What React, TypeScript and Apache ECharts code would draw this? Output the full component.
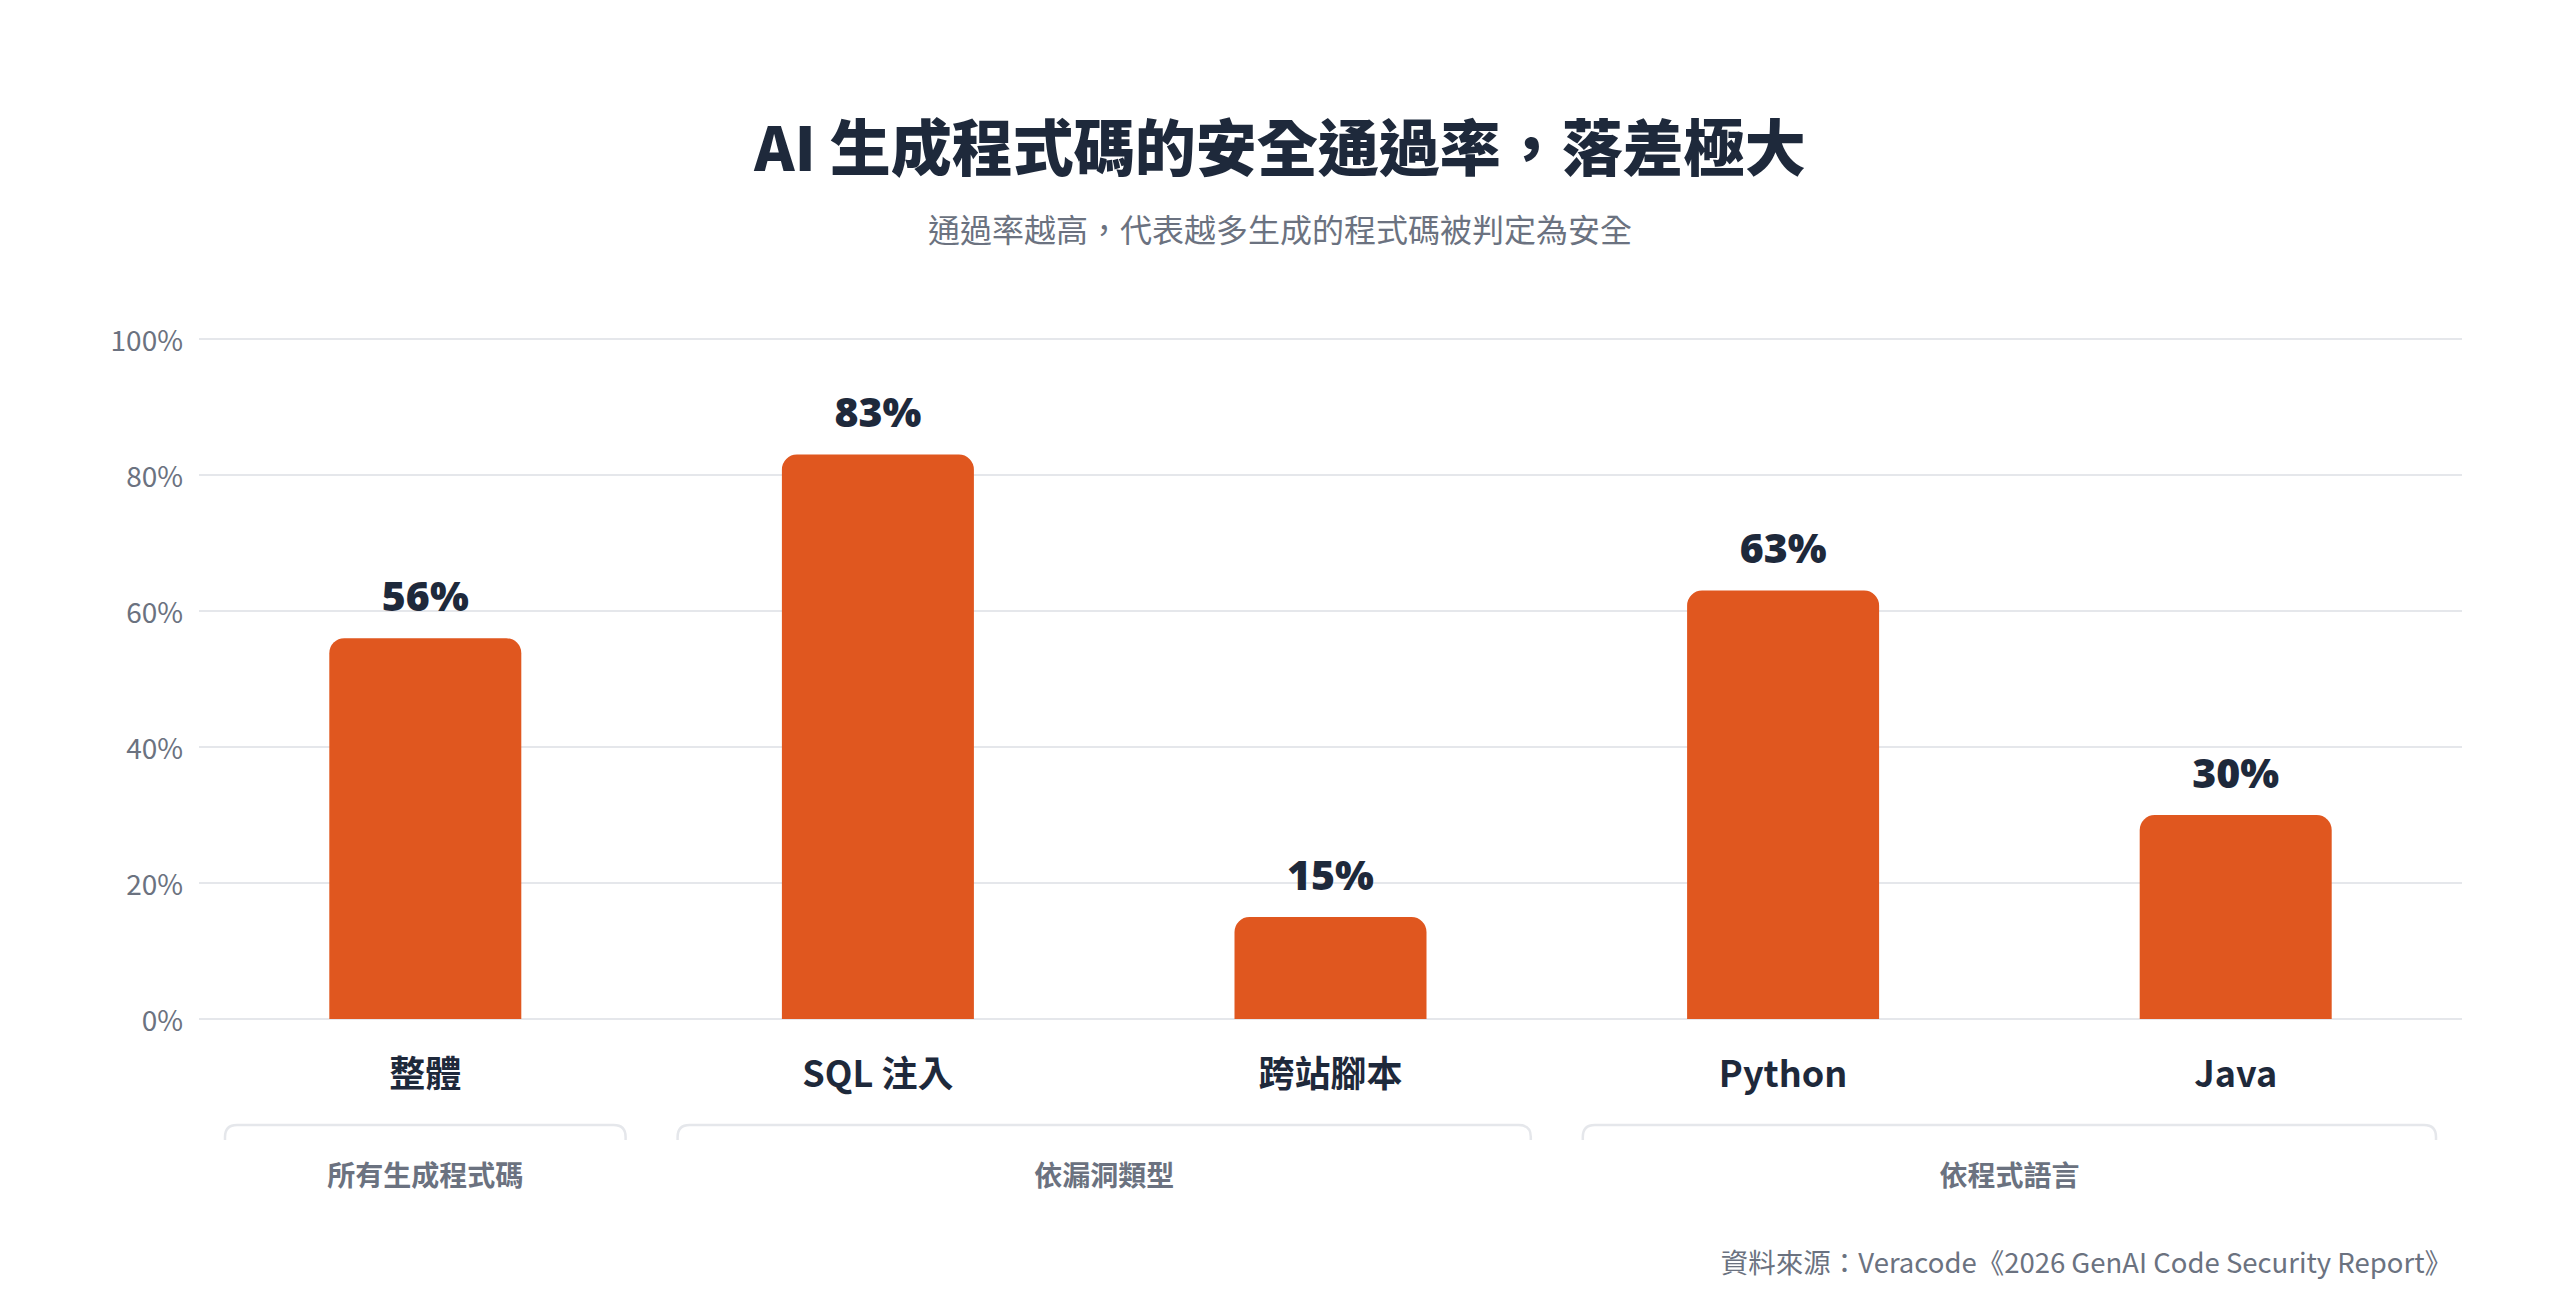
import React, { useEffect, useRef } from "react";
import * as echarts from "echarts";

const categories = ["整體", "SQL 注入", "跨站腳本", "Python", "Java"];
const passRates = [56, 83, 15, 63, 30];
const yTicks = { min: 0, max: 100, interval: 20 };
const groups = [
  { label: "所有生成程式碼", start: 0, end: 0 },
  { label: "依漏洞類型", start: 1, end: 2 },
  { label: "依程式語言", start: 3, end: 4 },
];
const titleText = "AI 生成程式碼的安全通過率，落差極大";
const subtitleText = "通過率越高，代表越多生成的程式碼被判定為安全";
const sourceText = "資料來源：Veracode《2026 GenAI Code Security Report》";

const FONT = '"Noto Sans CJK TC", "Noto Sans", sans-serif';
const NUM_FONT = '"Noto Sans", "Noto Sans CJK TC", sans-serif';
const DARK = "#1e293b";
const GRAY = "#6b7280";
const LINE = "#e5e7eb";
const BAR = "#E0571F";

let registered = false;
function registerBracket() {
  if (registered) return;
  registered = true;
  const Bracket = (echarts.graphic as any).extendShape({
    shape: { x0: 0, x1: 0, y: 0, h: 15, r: 12 },
    buildPath(ctx: any, s: any) {
      ctx.moveTo(s.x0, s.y + s.h);
      ctx.lineTo(s.x0, s.y + s.r);
      ctx.quadraticCurveTo(s.x0, s.y, s.x0 + s.r, s.y);
      ctx.lineTo(s.x1 - s.r, s.y);
      ctx.quadraticCurveTo(s.x1, s.y, s.x1, s.y + s.r);
      ctx.lineTo(s.x1, s.y + s.h);
    },
  });
  (echarts.graphic as any).registerShape("bracket", Bracket);
}

export default function App() {
  const ref = useRef<HTMLDivElement>(null);
  useEffect(() => {
    document.body.style.margin = "0";
    registerBracket();
    const chart = echarts.init(ref.current!, null, { renderer: "svg" });
    chart.setOption({
      animation: false,
      backgroundColor: "#ffffff",
      textStyle: { fontFamily: FONT },
      grid: { left: 199, right: 98, top: 339, bottom: 284, containLabel: false },
      xAxis: {
        type: "category",
        data: categories,
        axisLine: { show: false },
        axisTick: { show: false },
        axisLabel: {
          fontSize: 36,
          fontWeight: "bold",
          color: DARK,
          margin: 34,
          fontFamily: FONT,
        },
      },
      yAxis: {
        type: "value",
        min: yTicks.min,
        max: yTicks.max,
        interval: yTicks.interval,
        axisLine: { show: false },
        axisTick: { show: false },
        axisLabel: {
          formatter: "{value}%",
          fontSize: 28,
          color: GRAY,
          margin: 16,
          fontFamily: FONT,
        },
        splitLine: { lineStyle: { color: LINE, width: 2 } },
      },
      series: [
        {
          type: "bar",
          data: passRates,
          barWidth: 192,
          itemStyle: { color: BAR, borderRadius: [15, 15, 0, 0] },
          label: {
            show: true,
            position: "top",
            distance: 23,
            formatter: "{c}%",
            fontSize: 41,
            fontWeight: 900,
            color: DARK,
            fontFamily: NUM_FONT,
          },
        },
      ],
    });

    const c0 = chart.convertToPixel({ xAxisIndex: 0 }, 0) as number;
    const c1 = chart.convertToPixel({ xAxisIndex: 0 }, 1) as number;
    const band = c1 - c0;
    const inset = 26;
    const W = 2560;
    const graphics: any[] = [
      {
        type: "text",
        x: W / 2,
        y: 144,
        style: {
          text: titleText,
          fill: DARK,
          fontSize: 61,
          fontWeight: 900,
          fontFamily: FONT,
          align: "center",
          verticalAlign: "middle",
        },
      },
      {
        type: "text",
        x: W / 2,
        y: 228,
        style: {
          text: subtitleText,
          fill: GRAY,
          fontSize: 32,
          fontFamily: FONT,
          align: "center",
          verticalAlign: "middle",
        },
      },
      {
        type: "text",
        x: 2452,
        y: 1261,
        style: {
          text: sourceText,
          fill: GRAY,
          fontSize: 27.5,
          fontFamily: FONT,
          align: "right",
          verticalAlign: "middle",
        },
      },
    ];
    groups.forEach((g) => {
      const cs = chart.convertToPixel({ xAxisIndex: 0 }, g.start) as number;
      const ce = chart.convertToPixel({ xAxisIndex: 0 }, g.end) as number;
      const x0 = cs - band / 2 + inset;
      const x1 = ce + band / 2 - inset;
      graphics.push({
        type: "bracket",
        shape: { x0, x1, y: 1125, h: 15, r: 12 },
        style: { fill: "none", stroke: LINE, lineWidth: 2.5 },
      });
      graphics.push({
        type: "text",
        x: (x0 + x1) / 2,
        y: 1174,
        style: {
          text: g.label,
          fill: GRAY,
          fontSize: 28,
          fontWeight: "bold",
          fontFamily: FONT,
          align: "center",
          verticalAlign: "middle",
        },
      });
    });
    chart.setOption({ graphic: graphics });

    return () => chart.dispose();
  }, []);
  return (
    <div
      ref={ref}
      style={{ position: "fixed", left: 0, top: 0, width: "100vw", height: "100vh" }}
    />
  );
}
